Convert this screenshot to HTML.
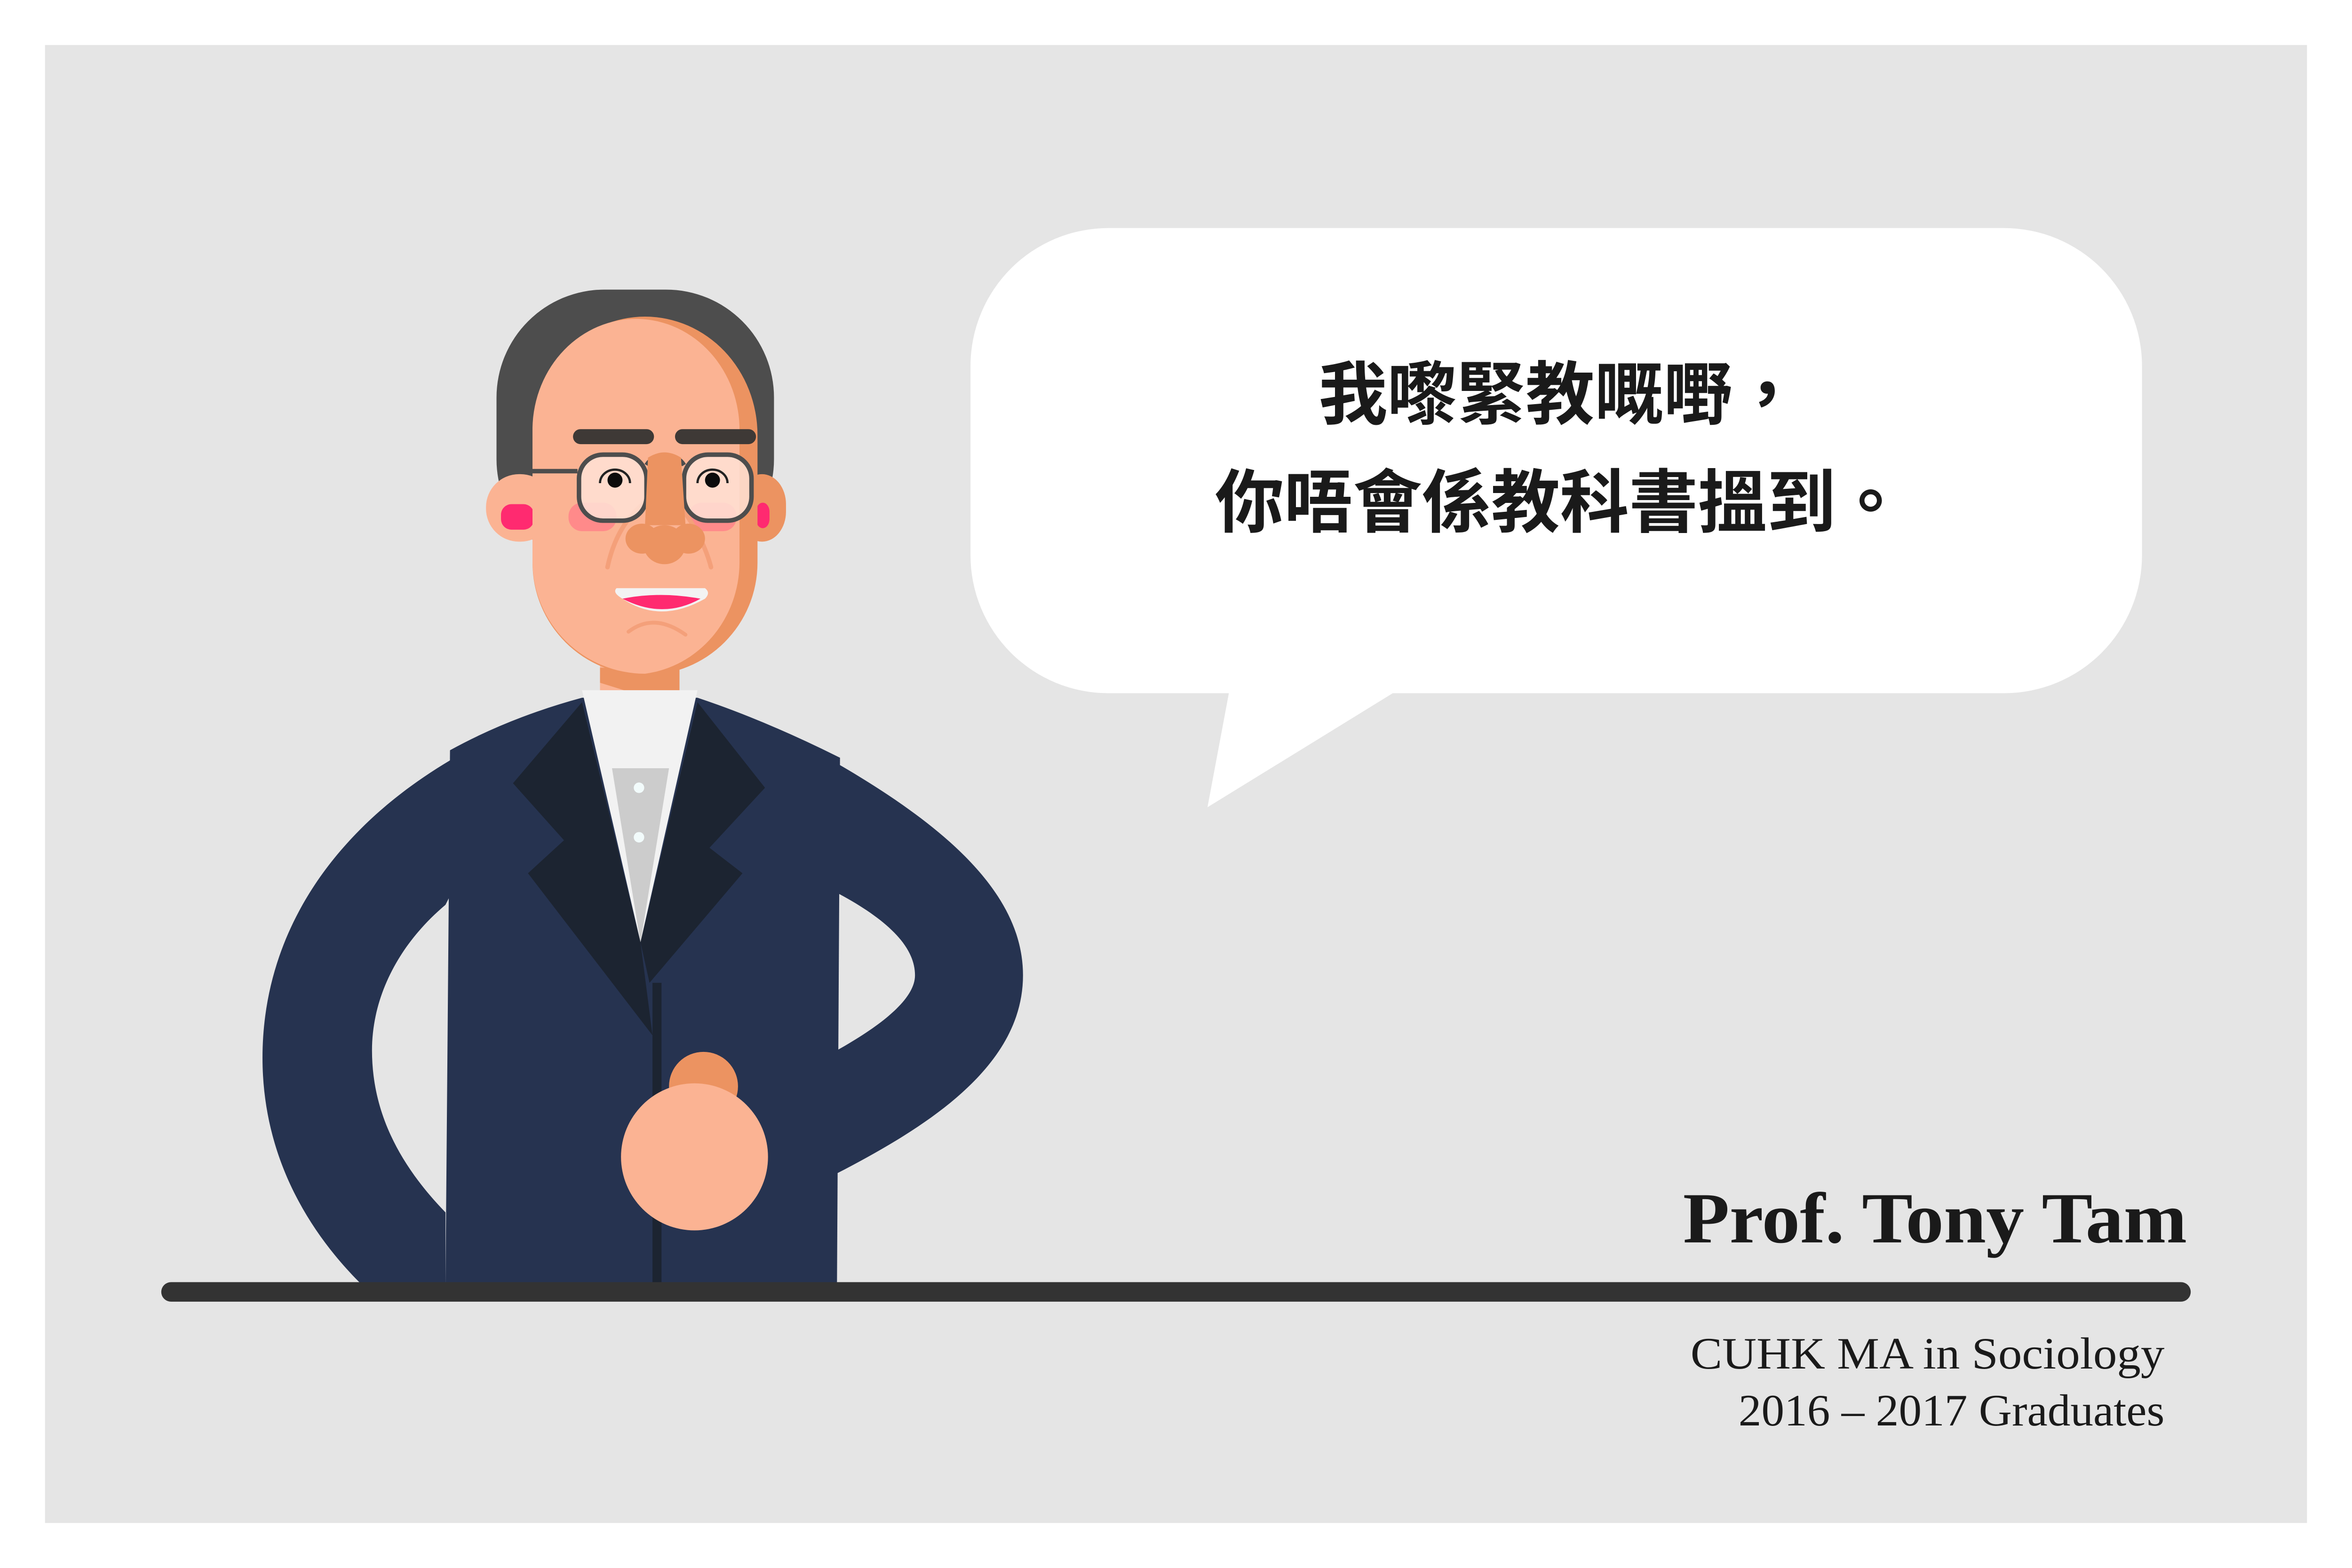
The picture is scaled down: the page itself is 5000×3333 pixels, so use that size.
<!DOCTYPE html>
<html><head><meta charset="utf-8"><style>
html,body{margin:0;padding:0;background:#fff;}
svg{display:block;}
</style></head><body>
<svg width="5000" height="3333" viewBox="0 0 1568 1045" preserveAspectRatio="none" xmlns="http://www.w3.org/2000/svg">
<rect x="0" y="0" width="1568" height="1045" fill="#ffffff"/>
<rect x="30" y="30" width="1508" height="985" fill="#e5e5e5"/>

<g>
<rect x="647" y="152" width="781" height="310" rx="92" fill="#ffffff"/>
<polygon points="820,458 805,538 935,458" fill="#ffffff"/>
</g>
<text x="1040" y="279" text-anchor="middle" font-family="'Liberation Sans','Noto Sans CJK TC',sans-serif" font-weight="bold" font-size="46" fill="#1a1a1a">我嚟緊教嘅嘢，</text>
<text x="1040" y="351" text-anchor="middle" font-family="'Liberation Sans','Noto Sans CJK TC',sans-serif" font-weight="bold" font-size="46" fill="#1a1a1a">你唔會係教科書搵到。</text>

<g>
<rect x="331" y="193" width="185" height="185" rx="72" fill="#4d4d4d"/>
<rect x="400" y="430" width="53" height="45" fill="#fbb393"/>
<polygon points="400,445 453,445 453,470 448,470 400,455" fill="#ec9361"/>
<g>
<rect x="324" y="316" width="45" height="45" rx="22" fill="#fbb393"/>
<rect x="334" y="336" width="22" height="17" rx="7" fill="#ff2a70"/>
</g>
<g>
<rect x="492" y="316" width="32" height="45" rx="20" fill="#ec9361"/>
<rect x="504" y="335" width="9" height="17" rx="6" fill="#ff2a70"/>
</g>
<path d="M355,290 A75,79 0 0 1 505,290 L505,375 A75,75 0 0 1 355,375 Z" fill="#ec9361"/>
<path d="M355,285 A69,74 0 0 1 493,288 L493,375 A72,75 0 0 1 430,449 A75,75 0 0 1 355,375 Z" fill="#fbb393"/>
<rect x="382" y="286" width="54" height="10" rx="5" fill="#3e3936"/>
<rect x="450" y="286" width="54" height="10" rx="5" fill="#3e3936"/>
<rect x="379" y="335" width="32" height="19" rx="9" fill="#ff8a8a"/>
<rect x="459" y="335" width="32" height="19" rx="9" fill="#ff8a8a"/>
<path d="M405,378 Q412,345 437,330" stroke="#f4a07a" stroke-width="3" fill="none" stroke-linecap="round"/>
<path d="M474,378 Q468,355 448,330" stroke="#f4a07a" stroke-width="3" fill="none" stroke-linecap="round"/>
<g>
<line x1="355" y1="314" x2="385" y2="314" stroke="#4d4d4d" stroke-width="3"/>
<rect x="386" y="303" width="45" height="44" rx="16" fill="#ffe2d6" fill-opacity="0.85" stroke="#4d4d4d" stroke-width="3"/>
<rect x="456" y="303" width="45" height="44" rx="16" fill="#ffe2d6" fill-opacity="0.85" stroke="#4d4d4d" stroke-width="3"/>
<path d="M431,310 A14,12 0 0 1 456,310" stroke="#4d4d4d" stroke-width="3" fill="none"/>
</g>
<circle cx="410" cy="320" r="5" fill="#0c0c0c"/>
<path d="M400,322 A10,9 0 0 1 420,322" stroke="#222" stroke-width="1.5" fill="none"/>
<circle cx="475" cy="320" r="5" fill="#0c0c0c"/>
<path d="M465,322 A10,9 0 0 1 485,322" stroke="#222" stroke-width="1.5" fill="none"/>
<g fill="#ec9361">
<path d="M432,305 Q443,298 454,305 L457,350 L430,350 Z"/>
<ellipse cx="428" cy="359" rx="11" ry="10"/>
<ellipse cx="459" cy="359" rx="11" ry="10"/>
<ellipse cx="443" cy="363" rx="14" ry="13"/>
</g>
<path d="M411,392 L470,392 Q474,395 470,399 Q440,416 415,399 Q408,395 411,392 Z" fill="#f3f3f3"/>
<path d="M415,399 Q440,394 467,399 Q442,413 415,399 Z" fill="#ff2a70"/>
<path d="M419,421 Q436,408 457,423" stroke="#f4a07a" stroke-width="2.5" fill="none" stroke-linecap="round"/>

<g fill="#263350">
<path d="M360,478 C250,520 175,600 175,705 C175,770 205,820 240,855 L297,855 L297,808 C265,775 248,740 248,700 C248,665 265,630 297,603 Z"/>
<path d="M520,488 C620,540 682,590 682,650 C682,710 620,750 558,782 L558,700 C590,682 610,665 610,650 C610,630 590,612 558,595 Z"/>
<path d="M300,500 Q340,478 388,465 L465,465 Q510,480 560,505 L558,855 L297,855 Z"/>
</g>
<polygon points="388,460 465,460 427,628" fill="#f2f2f2"/>
<polygon points="408,512 446,512 427,628" fill="#cccccc"/>
<circle cx="426" cy="525" r="3.5" fill="#f2fbfb"/>
<circle cx="426" cy="558" r="3.5" fill="#f2fbfb"/>
<polygon points="388,468 342,522 376,560 352,582 435,690 427,628" fill="#1c2431"/>
<polygon points="465,468 510,525 473,565 495,582 433,655 427,628" fill="#1c2431"/>
<rect x="435" y="655" width="6" height="200" fill="#1c2431"/>
<circle cx="469" cy="724" r="23" fill="#ec9361"/>
<circle cx="463" cy="771" r="49" fill="#fbb393"/>
</g>

<line x1="114" y1="861" x2="1454" y2="861" stroke="#333333" stroke-width="13" stroke-linecap="round"/>

<text x="1122" y="828" textLength="336" lengthAdjust="spacingAndGlyphs" font-family="'Liberation Serif',serif" font-weight="bold" font-size="48" fill="#1a1a1a">Prof. Tony Tam</text>
<text x="1127" y="912" textLength="316" lengthAdjust="spacingAndGlyphs" font-family="'Liberation Serif',serif" font-size="30" fill="#1a1a1a">CUHK MA in Sociology</text>
<text x="1159" y="950" textLength="284" lengthAdjust="spacingAndGlyphs" font-family="'Liberation Serif',serif" font-size="30" fill="#1a1a1a">2016 – 2017 Graduates</text>
</svg>
</body></html>
